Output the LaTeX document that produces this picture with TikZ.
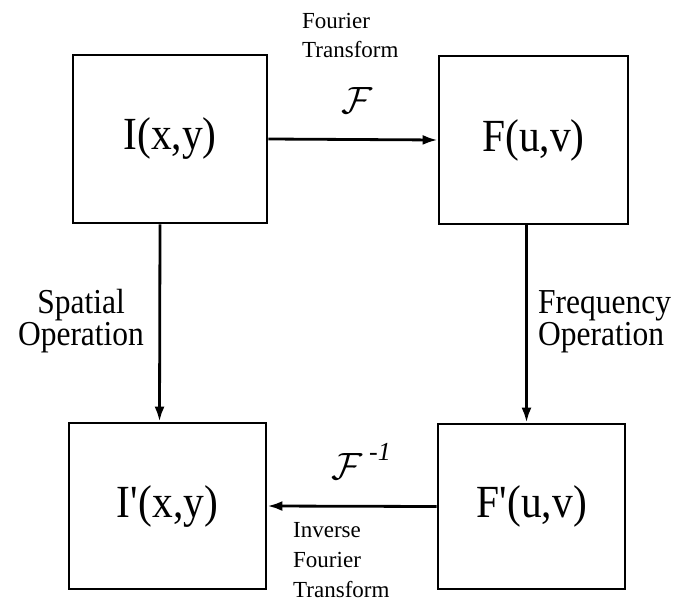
\documentclass[tikz,border=0pt]{standalone}
\usepackage{fontspec}
\setmainfont{Liberation Serif}
\newfontfamily\condserif[FakeStretch=0.9]{Liberation Serif}
\usetikzlibrary{arrows.meta}
\begin{document}
\begin{tikzpicture}[x=1pt,y=-1pt,
  box/.style={draw,line width=2.8pt,inner sep=0pt,font=\condserif\fontsize{46}{48}\selectfont},
  arr/.style={line width=2.8pt,-{Latex[length=15pt,width=10pt]}},
  side/.style={inner sep=0pt,font=\condserif\fontsize{35}{36}\selectfont},
  small/.style={inner sep=0pt,align=left,font=\fontsize{23}{29}\selectfont},
  opsym/.style={inner sep=0pt}]
\useasboundingbox (0,0) rectangle (685,602);
\node[box,minimum width=194pt,minimum height=168pt] (tl) at (170,139) {I(x,y)};
\node[box,minimum width=189pt,minimum height=168pt] (tr) at (533.5,140) {F(u,v)};
\node[box,minimum width=197pt,minimum height=166pt] (bl) at (167.5,506) {I\textquotesingle(x,y)};
\node[box,minimum width=187pt,minimum height=165pt] (br) at (531.5,506.5) {F\textquotesingle(u,v)};
\draw[arr] (tl.east) -- (tr.west);
\draw[arr] (br.west) -- (bl.east);
\draw[arr] ([xshift=-10pt]tl.south) -- ([xshift=-8pt]bl.north);
\draw[arr] ([xshift=-7pt]tr.south) -- ([xshift=-5pt]br.north);
\node[small,anchor=north west] (ft) at (302,13) {Fourier\\Transform};
\node[opsym] (f) at (357,101) {\scalebox{3.8}{$\mathcal{F}$}};
\node[opsym] (fi) at (347,467) {\scalebox{3.8}{$\mathcal{F}$}};
\node[inner sep=0pt,font=\fontsize{26}{28}\selectfont\itshape] (m1) at (380,452) {-1};
\node[small,anchor=north west,font=\fontsize{23}{30}\selectfont] (ift) at (293,522) {Inverse\\Fourier\\Transform};
\node[side,anchor=base] (so1) at (81,313) {Spatial};
\node[side,anchor=base] (so2) at (81,345) {Operation};
\node[side,anchor=base west] (fo1) at (538,313) {Frequency};
\node[side,anchor=base west] (fo2) at (538,345) {Operation};
\end{tikzpicture}
\end{document}
